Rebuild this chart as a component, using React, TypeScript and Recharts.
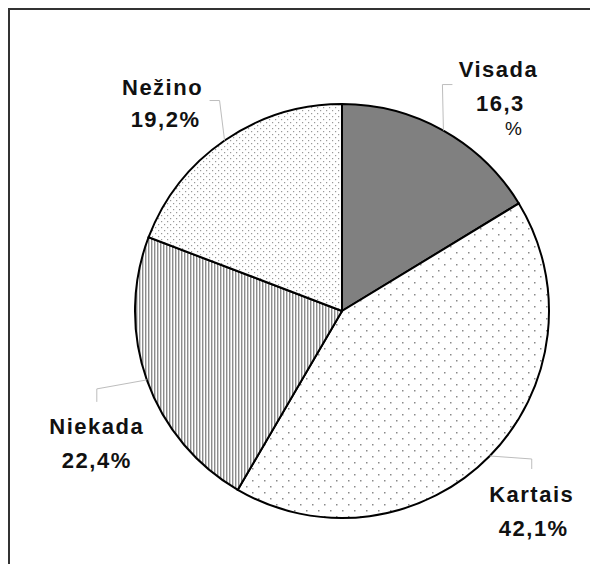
import { PieChart, Pie, Cell } from 'recharts';

const CATEGORIES = ['Visada', 'Kartais', 'Niekada', 'Nežino'];
const SHARES = [16.3, 42.1, 22.4, 19.2];
const FILLS = ['#808080', 'url(#dotsSparse)', 'url(#stripes)', 'url(#dotsDense)'];

// label placement, offsets from the point where the slice's mid-angle meets the rim
const LABEL_LAYOUT = [
  { leader: [[-1, -46], [9, -46]], name: [55, -54], value: [57, -20], pct: [70, 4] },
  { leader: [[42, 3], [42, 13]], name: [42, 46], value: [44, 80] },
  { leader: [[-50, 9], [-50, 22]], name: [-50, 54], value: [-50, 88] },
  { leader: [[-5, -40], [-15, -40]], name: [-62, -46], value: [-59, -14] },
];

const RADIAN = Math.PI / 180;
const fmt = (v: number) => v.toFixed(1).replace('.', ',');

const data = CATEGORIES.map((name, i) => ({ name, value: SHARES[i] }));

const textStyle = {
  fontFamily: '"Liberation Sans", Arial, sans-serif',
  fontWeight: 700,
  fontSize: 22,
  letterSpacing: 1.5,
  fill: '#111',
};

function renderLabel(props: any) {
  const { cx, cy, midAngle, outerRadius, index } = props;
  const ex = cx + outerRadius * Math.cos(-midAngle * RADIAN);
  const ey = cy + outerRadius * Math.sin(-midAngle * RADIAN);
  const lay = LABEL_LAYOUT[index];
  const pts = [[0, 0], ...lay.leader].map(([dx, dy]) => `${ex + dx},${ey + dy}`).join(' ');
  const share = fmt(SHARES[index]);
  return (
    <g>
      <polyline points={pts} fill="none" stroke="#bdbdbd" strokeWidth={1} />
      <text x={ex + lay.name[0]} y={ey + lay.name[1]} textAnchor="middle" style={textStyle}>
        {CATEGORIES[index]}
      </text>
      <text x={ex + lay.value[0]} y={ey + lay.value[1]} textAnchor="middle" style={textStyle}>
        {lay.pct ? share : `${share}%`}
      </text>
      {lay.pct && (
        <text x={ex + lay.pct[0]} y={ey + lay.pct[1]} textAnchor="middle" style={{ ...textStyle, fontWeight: 400, fontSize: 19, letterSpacing: 0 }}>
          %
        </text>
      )}
    </g>
  );
}

export default function App() {
  return (
    <div style={{ width: 588, height: 554, borderTop: '2px solid #333', borderLeft: '2px solid #333', background: '#fff' }}>
      <PieChart width={588} height={554}>
        <defs>
          <pattern id="dotsSparse" width="12" height="12" patternUnits="userSpaceOnUse">
            <rect width="12" height="12" fill="#fff" />
            <rect x="2" y="2" width="1.5" height="1.5" fill="#8a8a8a" />
            <rect x="8" y="8" width="1.5" height="1.5" fill="#8a8a8a" />
          </pattern>
          <pattern id="dotsDense" width="6" height="6" patternUnits="userSpaceOnUse">
            <rect width="6" height="6" fill="#fff" />
            <rect x="1" y="1" width="1.2" height="1.2" fill="#999" />
            <rect x="4" y="4" width="1.2" height="1.2" fill="#999" />
          </pattern>
          <pattern id="stripes" width="3" height="6" patternUnits="userSpaceOnUse">
            <rect width="3" height="6" fill="#fff" />
            <rect x="0" width="1" height="6" fill="#8c8c8c" />
            <rect x="1" width="1" height="6" fill="#cfcfcf" />
          </pattern>
        </defs>
        <Pie
          data={data}
          dataKey="value"
          cx={327}
          cy={296}
          outerRadius={207}
          startAngle={90}
          endAngle={-270}
          stroke="#000"
          strokeWidth={2}
          label={renderLabel}
          labelLine={false}
          isAnimationActive={false}
        >
          {data.map((d, i) => (
            <Cell key={d.name} fill={FILLS[i]} />
          ))}
        </Pie>
      </PieChart>
    </div>
  );
}
